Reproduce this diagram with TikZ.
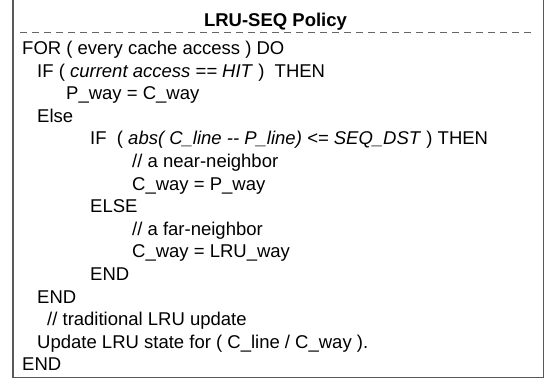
\documentclass[tikz,border=0pt]{standalone}
\usepackage{fontspec}
\setmainfont{Liberation Sans}
\usetikzlibrary{positioning}

\tikzset{
  codeline/.style={anchor=base west, inner sep=0pt, font=\fontsize{18.5}{22}\selectfont},
  frame/.style={line width=1.5pt, black!65}
}

\begin{document}
\begin{tikzpicture}[x=1pt,y=-1pt]
        \useasboundingbox (0,0) rectangle (549,379);

        % Outer frame (top edge cut off by the page)
        \draw[frame] (13,-3) rectangle (543.5,377.5);

        % Title with dashed separator
        \node[codeline, anchor=base, font=\fontsize{18.5}{22}\selectfont\bfseries] (title) at (275.5,27) {LRU-SEQ Policy};
        \draw[black!60, line width=1pt, dash pattern=on 7pt off 5pt] (20,33) -- (533,33);

        % Policy body
        \node[codeline] (for) at (22,54.5) {FOR ( every cache access ) DO};
        \node[codeline] (ifhit) at (37,77.1) {IF ( \textit{current access == HIT} )\ \ THEN};
        \node[codeline] (pway) at (66,99.7) {P\_way = C\_way};
        \node[codeline] (else) at (37,122.3) {Else};
        \node[codeline] (ifseq) at (90,144.9) {IF\ \ ( \textit{abs( C\_line -{}- P\_line) <= SEQ\_DST} ) THEN};
        \node[codeline] (near) at (132,167.5) {// a near-neighbor};
        \node[codeline] (cwayp) at (132,190.1) {C\_way = P\_way};
        \node[codeline] (elseseq) at (90,212.7) {ELSE};
        \node[codeline] (far) at (132,235.3) {// a far-neighbor};
        \node[codeline] (cwaylru) at (132,257.9) {C\_way = LRU\_way};
        \node[codeline] (endseq) at (90,280.5) {END};
        \node[codeline] (endhit) at (37,303.1) {END};
        \node[codeline] (note) at (47,325.7) {// traditional LRU update};
        \node[codeline] (update) at (37,348.3) {Update LRU state for ( C\_line / C\_way ).};
        \node[codeline] (endfor) at (22,370.9) {END};
\end{tikzpicture}
\end{document}
